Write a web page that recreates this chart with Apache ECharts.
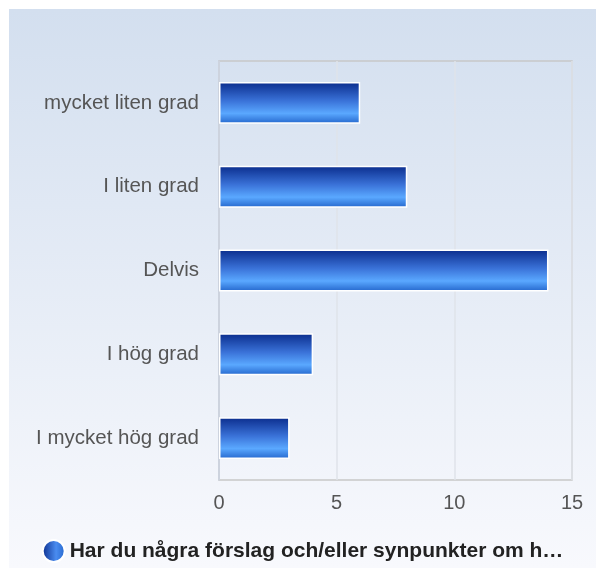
<!DOCTYPE html>
<html>
<head>
<meta charset="utf-8">
<script src="https://cdn.jsdelivr.net/npm/echarts@6/dist/echarts.min.js"></script>
<style>
  html, body { margin: 0; padding: 0; background: #fff; }
  #chart { position: absolute; left: 9px; top: 9px; width: 587px; height: 559px; }
</style>
</head>
<body>
<div id="chart"></div>
<script>
// svar och antal
const categories = ['mycket liten grad', 'I liten grad', 'Delvis', 'I hög grad', 'I mycket hög grad']
const counts = [6, 8, 14, 4, 3]
const seriesName = 'Har du några förslag och/eller synpunkter om h…'

const chart = echarts.init(document.getElementById('chart'))

const barGradient = new echarts.graphic.LinearGradient(0, 0, 0, 1, [
  { offset: 0, color: '#0a2c8c' },
  { offset: 0.45, color: '#3a72d8' },
  { offset: 0.75, color: '#5aa8ff' },
  { offset: 1, color: '#2466cc' }
])

const option = {
  backgroundColor: new echarts.graphic.LinearGradient(0, 0, 0, 1, [
    { offset: 0, color: '#d3dfef' },
    { offset: 1, color: '#f8f9fd' }
  ]),
  textStyle: { fontFamily: 'Liberation Sans, Arial, sans-serif' },
  grid: {
    left: 210,
    right: 24,
    top: 52,
    bottom: 88,
    show: true,
    borderColor: '#c8c8c8',
    borderWidth: 1.5
  },
  legend: {
    bottom: 0,
    left: 'center',
    itemWidth: 22,
    itemHeight: 22,
    itemGap: 6,
    data: [{
      name: seriesName,
      icon: 'circle',
      itemStyle: {
        color: new echarts.graphic.LinearGradient(0, 0, 1, 0, [
          { offset: 0, color: '#0a2c8c' },
          { offset: 0.6, color: '#4a8cf0' },
          { offset: 1, color: '#2466cc' }
        ])
      }
    }],
    textStyle: { fontSize: 21, fontWeight: 'bold', color: '#222' }
  },
  xAxis: {
    type: 'value',
    min: 0,
    max: 15,
    interval: 5,
    axisLine: { show: false },
    axisTick: { show: false },
    axisLabel: { fontSize: 20, color: '#555', margin: 13 },
    splitLine: { lineStyle: { color: '#dfe3ea', width: 1.5 } }
  },
  yAxis: {
    type: 'category',
    inverse: true,
    data: categories,
    axisLine: { show: true, lineStyle: { color: '#c8cfdc', width: 1.5 } },
    axisTick: { show: false },
    axisLabel: { fontSize: 20.5, color: '#555', margin: 20, padding: [4, 0, 0, 0] }
  },
  series: [{
    name: seriesName,
    type: 'bar',
    data: counts,
    barWidth: '50%',
    itemStyle: {
      color: barGradient,
      borderColor: '#ffffff',
      borderWidth: 1.5
    }
  }]
}

chart.setOption(option)
</script>
</body>
</html>
